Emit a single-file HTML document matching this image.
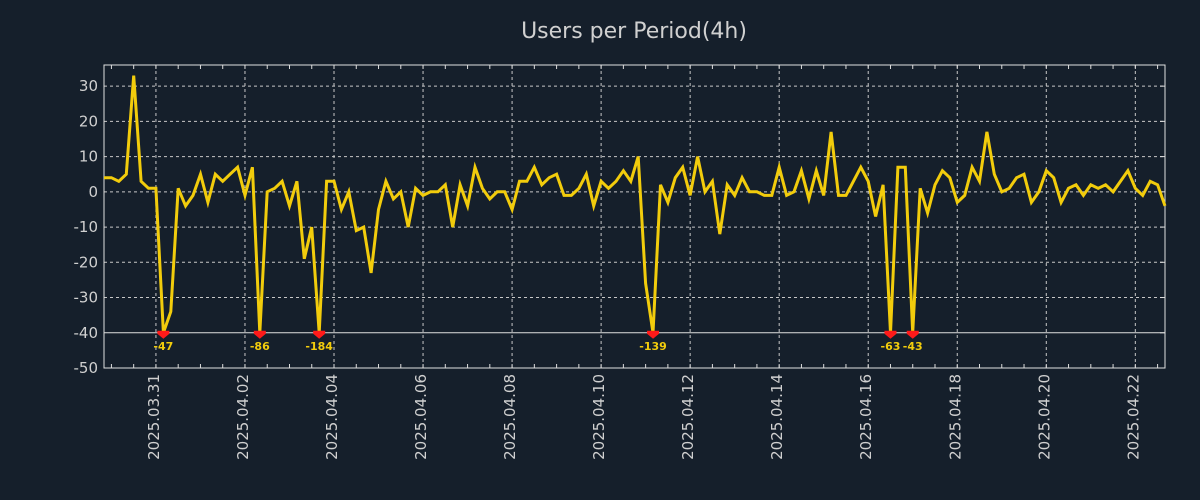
<!DOCTYPE html>
<html><head><meta charset="utf-8"><style>
html,body{margin:0;padding:0;background:#161f2b;}
svg{display:block;font-family:"DejaVu Sans","Liberation Sans",sans-serif;}
</style></head><body>
<svg id="chart" width="1200" height="500">
<rect width="1200" height="500" fill="#151f2b"/>
<text x="634" y="38" text-anchor="middle" font-size="22" fill="#d0d0d0">Users per Period(4h)</text>
<g id="grid"></g><g id="axes"></g><g id="series"></g>
</svg>
<script>
const values=[4,4,3,5,33,3,1,1,-47,-34,1,-4,-1,5,-3,5,3,5,7,-1,7,-86,0,1,3,-4,3,-19,-10,-184,3,3,-5,0,-11,-10,-23,-5,3,-2,0,-10,1,-1,0,0,2,-10,2,-4,7,1,-2,0,0,-5,3,3,7,2,4,5,-1,-1,1,5,-4,3,1,3,6,3,10,-26,-139,2,-3,4,7,-1,10,0,3,-12,2,-1,4,0,0,-1,-1,7,-1,0,6,-2,6,-1,17,-1,-1,3,7,3,-7,2,-63,7,7,-43,1,-6,2,6,4,-3,-1,7,3,17,5,0,1,4,5,-3,0,6,4,-3,1,2,-1,2,1,2,0,3,6,1,-1,3,2,-4];
const yTicks=[30,20,10,0,-10,-20,-30,-40,-50];
const dateLabels=["2025.03.31","2025.04.02","2025.04.04","2025.04.06","2025.04.08","2025.04.10","2025.04.12","2025.04.14","2025.04.16","2025.04.18","2025.04.20","2025.04.22"];
const firstDateIndex=7, periodsPerDay=6, clipMin=-40;
const L=104,R=1165,T=65,B=368,yMin=-50,yMax=36;
const ns="http://www.w3.org/2000/svg";
const xs=i=>L+i*(R-L)/(values.length-1);
const ys=v=>B-(v-yMin)*(B-T)/(yMax-yMin);
function mk(tag,attrs,parent){const e=document.createElementNS(ns,tag);for(const k in attrs)e.setAttribute(k,attrs[k]);parent.appendChild(e);return e;}
const grid=document.getElementById('grid'),axes=document.getElementById('axes'),series=document.getElementById('series');
yTicks.forEach(v=>{
  const y=ys(v);
  if(v!==clipMin&&v!==yMin){const g=mk('line',{x1:L,x2:R,y1:y,y2:y,stroke:'#c8c8c8','stroke-width':1,'stroke-dasharray':'3,3'},grid);
  
  }
  const t=mk('text',{x:98,y:y+5,'text-anchor':'end','font-size':15,fill:'#d0d0d0'},axes);
  t.textContent=v;
  
  
  mk('line',{x1:R-5,x2:R,y1:y,y2:y,stroke:'#ddd'},axes);
});
const thr=mk('line',{x1:L,x2:R,y1:ys(clipMin),y2:ys(clipMin),stroke:'#e0e0e0','stroke-width':1},grid);


for(let i=firstDateIndex%3;i<values.length;i+=3){mk('line',{x1:xs(i),x2:xs(i),y1:T,y2:T+4,stroke:'#ddd'},axes);mk('line',{x1:xs(i),x2:xs(i),y1:B,y2:B-4,stroke:'#ddd'},axes);}
dateLabels.forEach((d,k)=>{
  const x=xs(firstDateIndex+k*2*periodsPerDay);
  const g=mk('line',{x1:x,x2:x,y1:T,y2:B,stroke:'#c8c8c8','stroke-width':1,'stroke-dasharray':'3,3'},grid);
  
  
  const t=mk('text',{x:0,y:0,'text-anchor':'end','font-size':15,fill:'#d0d0d0',transform:`translate(${x+3},374) rotate(-90)`},axes);
  t.textContent=d;
  
  
});
const fr=mk('rect',{x:L,y:T,width:R-L,height:B-T,fill:'none',stroke:'#e0e0e0','stroke-width':1},axes);


const pts=values.map((v,i)=>xs(i).toFixed(1)+','+ys(Math.max(v,clipMin)).toFixed(1)).join(' ');
const line=mk('polyline',{points:pts,fill:'none',stroke:'#f2cc0c','stroke-width':3,'stroke-linejoin':'miter'},series);


values.forEach((v,i)=>{
  if(v<clipMin){
    const x=xs(i),y=ys(clipMin);
    const m=mk('path',{d:`M${x-6},${y-2}h12v3l-6,5l-6,-5z`,fill:'#ff1a1a'},series);
    
    
    const t=mk('text',{x:x,y:y+17,'text-anchor':'middle','font-size':11,'font-weight':'bold',fill:'#f2cc0c'},series);
    t.textContent=v;
    
    
  }
});
</script>
</body></html>
